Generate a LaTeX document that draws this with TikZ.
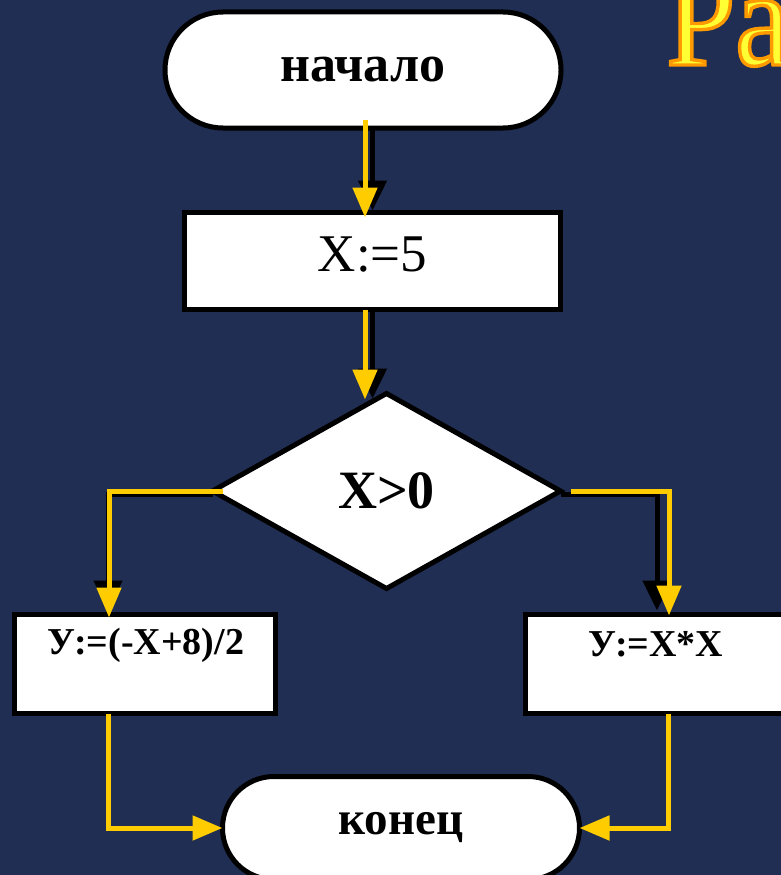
\documentclass[tikz,border=0pt]{standalone}
\usepackage{fontspec}
\setmainfont{Liberation Serif}
\newfontfamily\titlefont[FakeStretch=0.9,FakeBold=2.5]{Liberation Serif}
\usetikzlibrary{shapes.geometric,shapes.misc,arrows.meta,calc}
\definecolor{bg}{HTML}{1F2E52}
\definecolor{yel}{HTML}{FFCC00}
\definecolor{ttl}{HTML}{FFFF33}
\newcommand\glowtext[1]{\textcolor{ttl}{\special{pdf:code 1 0.6 0 RG}#1}}
\begin{document}
\begin{tikzpicture}[x=1pt,y=-1pt,
  stad/.style={rounded rectangle,draw=black,fill=white,line width=5pt,inner sep=0pt,outer sep=0pt},
  box/.style={rectangle,draw=black,fill=white,line width=5pt,inner sep=0pt,outer sep=0pt},
  dec/.style={diamond,draw=black,fill=white,line width=5pt,inner sep=0pt,outer sep=0pt},
  blk/.style={draw=black,line width=5pt,-{Triangle[length=30pt,width=28pt]}},
  yl/.style={draw=yel,line width=5pt,-{Triangle[length=30pt,width=24pt]}},
  small/.style={font=\bfseries\fontsize{38}{38}\selectfont}]
\useasboundingbox (0,0) rectangle (781,875);
\clip (0,0) rectangle (781,875);
\fill[bg] (0,0) rectangle (781,875);

\node[anchor=base west,inner sep=0pt,font=\titlefont\fontsize{138}{138}\selectfont] (title) at (666,65) {\glowtext{Ра}};

\node[stad,minimum width=396,minimum height=116,font=\bfseries\fontsize{52}{52}\selectfont] (start) at (363,70) {начало};
\node[box,minimum width=376,minimum height=97,font=\fontsize{53}{53}\selectfont,text depth=14pt] (x5) at (372.5,261) {X:=5};
\node[dec,minimum width=348,minimum height=195,font=\bfseries\fontsize{54}{54}\selectfont] (dia) at (386.5,491) {X>0};
\node[box,minimum width=261,minimum height=99] (L) at (145,664) {};
\node[small] (Lt) at (146,645) {У:=(-X+8)/2};
\node[box,minimum width=261,minimum height=99] (R) at (656,664) {};
\node[small] (Rt) at (656,644) {У:=X*X};
\node[stad,minimum width=357,minimum height=103,font=\bfseries\fontsize{47}{47}\selectfont] (end) at (401,828) {конец};

% black connectors
\draw[blk] (x5.north |- start.south) -- ($(x5.north)+(0,-2)$);
\draw[blk] (x5.south) -- ($(x5.south |- dia.north)+(0,5)$);
\draw[blk] ($(dia.west)+(0,3)$) -| ($(L.north)+(-37,-4)$);
\draw[blk] ($(dia.east)+(0,3)$) -| ($(R.north)+(1,-4)$);

% yellow connectors
\draw[yl] ($(start.south)+(2,-8)$) -- ($(x5.north)+(-7.5,5)$);
\draw[yl] ($(x5.south)+(-7.5,0)$) -- ($(x5.south |- dia.north)+(-7.5,6)$);
\draw[yl] ($(dia.west)+(10,0)$) -| ($(L.north)+(-36,3)$);
\draw[yl] ($(dia.east)+(10,0)$) -| ($(R.north)+(13,1)$);
\draw[yl] ($(L.south)+(-37,0)$) |- (end.west);
\draw[yl] ($(R.south)+(12,0)$) |- (end.east);
\end{tikzpicture}
\end{document}
